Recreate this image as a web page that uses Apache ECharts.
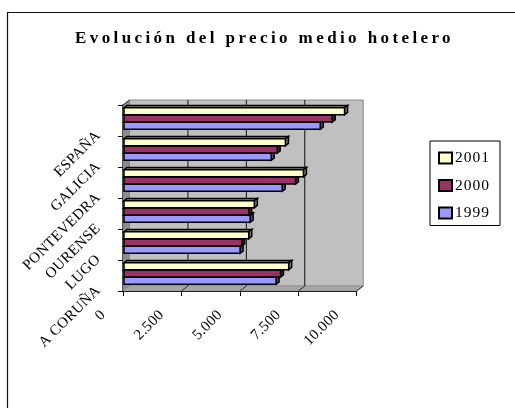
<!DOCTYPE html>
<html><head><meta charset="utf-8">
<style>html,body{margin:0;padding:0;background:#fff}#c{width:515px;height:408px}</style>
<script src="https://cdn.jsdelivr.net/npm/echarts@6/dist/echarts.min.js"></script>
</head><body><div id="c"></div>
<script>
const categories = ['A CORUÑA','LUGO','OURENSE','PONTEVEDRA','GALICIA','ESPAÑA'];
const v1999 = [6550,5010,5440,6810,6340,8440];
const v2000 = [6740,5080,5380,7380,6600,8950];
const v2001 = [7090,5380,5620,7720,6950,9480];
const titleText = 'Evolución del precio medio hotelero';
const xTicks = [0,2500,5000,7500,10000];

// spaced-out lettering of the original title and legend
const origFill = CanvasRenderingContext2D.prototype.fillText;
CanvasRenderingContext2D.prototype.fillText = function(t,x,y,m){
  const sp = t===titleText ? '3.4px' : (/^(1999|2000|2001)$/.test(t) ? '1px' : '0.3px');
  this.letterSpacing = sp;
  const r = m===undefined ? origFill.call(this,t,x,y) : origFill.call(this,t,x,y,m);
  this.letterSpacing = '0px';
  return r;
};

const DX=6.5, DY=-5;
const serif='"Liberation Serif","Times New Roman",serif';
function wallsItem(params,api){
  const g=params.coordSys, L=g.x,R=g.x+g.width,T=g.y,B=g.y+g.height;
  const kids=[
   {type:'polygon',shape:{points:[[L+DX,T+DY],[R+DX,T+DY],[R+DX,B+DY],[L+DX,B+DY]]},style:{fill:'#c0c0c0',stroke:'#8a8a8a',lineWidth:1}},
   {type:'polygon',shape:{points:[[L,T],[L+DX,T+DY],[L+DX,B+DY],[L,B]]},style:{fill:'#8c8c8c',stroke:'#808080',lineWidth:0.5}},
   {type:'polygon',shape:{points:[[L,B],[R,B],[R+DX,B+DY],[L+DX,B+DY]]},style:{fill:'#a6a6a6',stroke:'#8a8a8a',lineWidth:0.5}},
   {type:'line',shape:{x1:L,y1:T,x2:L+DX,y2:T+DY},style:{stroke:'#222',lineWidth:1}}
  ];
  xTicks.forEach(v=>{
    const x=api.coord([v,0])[0];
    if(v>0&&v<10000) kids.push({type:'line',shape:{x1:x+DX,y1:T+DY,x2:x+DX,y2:B+DY},style:{stroke:'#111',lineWidth:1}});
    if(v>0) kids.push({type:'line',shape:{x1:x,y1:B,x2:x+DX,y2:B+DY},style:{stroke:'#333',lineWidth:1}});
  });
  return {type:'group',children:kids};
}
function barItem(slot,fill,side,top){
  return function(params,api){
    const p0=api.coord([0,api.value(1)]), p1=api.coord([api.value(0),api.value(1)]);
    const band=api.size([0,1])[1], pitch=band*0.236, h=7;
    const cy=p0[1]-band*0.065+slot*pitch, y0=cy-h/2, y1=cy+h/2;
    const x0=p0[0]+1, x1=p1[0], dx=3, dy=-2.2;
    const s={stroke:'#000',lineWidth:1.5,lineJoin:'miter'};
    return {type:'group',children:[
      {type:'polygon',shape:{points:[[x0,y0],[x1,y0],[x1+dx,y0+dy],[x0+dx,y0+dy]]},style:{fill:top,...s}},
      {type:'polygon',shape:{points:[[x1,y0],[x1+dx,y0+dy],[x1+dx,y1+dy],[x1,y1]]},style:{fill:side,...s}},
      {type:'rect',shape:{x:x0,y:y0,width:x1-x0,height:y1-y0},style:{fill:fill,...s}}
    ]};
  };
}
function yearSeries(name,vals,slot,fill,side,top){
  return {type:'custom',name:name,z:3,coordinateSystem:'cartesian2d',clip:false,silent:true,
    itemStyle:{color:fill,borderColor:'#000',borderWidth:1.5},
    encode:{x:0,y:1},data:vals.map((v,i)=>[v,i]),renderItem:barItem(slot,fill,side,top)};
}
const chart=echarts.init(document.getElementById('c'),null,{renderer:'canvas'});
chart.setOption({
  animation:false,backgroundColor:'#fff',
  title:{text:titleText,left:75,top:30,padding:0,textStyle:{fontFamily:serif,fontSize:17,fontWeight:'bold',color:'#000'}},
  graphic:[{type:'polyline',silent:true,shape:{points:[[520,12.5],[7.5,12.5],[7.5,415]]},style:{stroke:'#111',lineWidth:1.2,fill:null}}],
  legend:{orient:'vertical',left:430,top:141,padding:[9,14,4.5,8],itemWidth:13,itemHeight:11,itemGap:11.5,icon:'rect',
    borderColor:'#000',borderWidth:1,data:['2001','2000','1999'],selectedMode:false,
    textStyle:{fontFamily:serif,fontSize:15.5,color:'#000',padding:[0,0,0,-2]}},
  grid:{left:123,top:105,width:233.7,height:186},
  xAxis:{type:'value',min:0,max:10000,interval:2500,splitLine:{show:false},
    axisLine:{show:true,onZero:false,lineStyle:{color:'#000',width:1.2}},
    axisTick:{show:true,length:5,lineStyle:{color:'#000',width:1}},
    axisLabel:{rotate:45,margin:2,padding:[0,28,0,0],align:'right',verticalAlign:'middle',fontFamily:serif,fontSize:15,color:'#000',
      formatter:v=>String(v).replace(/(\d)(?=(\d{3})$)/,'$1.')}},
  yAxis:{type:'category',data:categories,splitLine:{show:false},
    axisLine:{show:true,lineStyle:{color:'#000',width:1.5}},
    axisTick:{show:true,length:5,lineStyle:{color:'#000',width:1}},
    axisLabel:{rotate:45,margin:12,padding:[0,18,0,0],fontFamily:serif,fontSize:15,color:'#000'}},
  series:[
    {type:'custom',z:1,silent:true,clip:false,coordinateSystem:'cartesian2d',encode:{x:0,y:1},data:[[0,0]],renderItem:wallsItem},
    yearSeries('1999',v1999,1,'#9999ff','#4d4d80','#4d4d80'),
    yearSeries('2000',v2000,0,'#993366','#4d1a33','#4d1a33'),
    yearSeries('2001',v2001,-1,'#ffffcc','#80806a','#80806a')
  ]
});
</script></body></html>
